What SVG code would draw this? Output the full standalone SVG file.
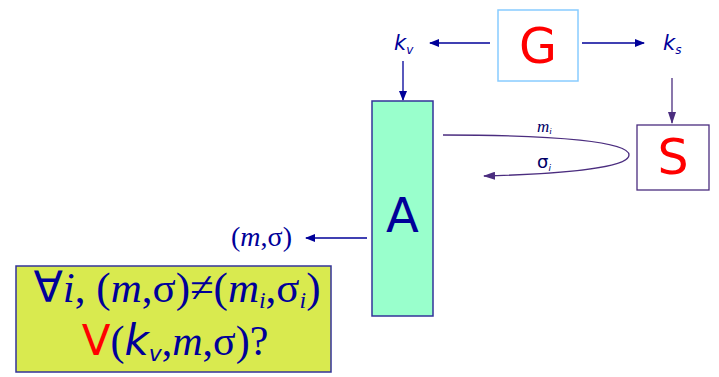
<svg xmlns="http://www.w3.org/2000/svg" width="719" height="377" viewBox="0 0 719 377">
<style>
.sans{font-family:"DejaVu Sans","Liberation Sans",sans-serif}
.serif{font-family:"Liberation Serif","DejaVu Serif",serif}
.blue{fill:#000099}
.red{fill:#ff0000}
.ln{stroke:#000099;stroke-width:1.3;fill:none}
.pl{stroke:#4b2d7f;stroke-width:1.3;fill:none}
</style>
<defs>
<marker id="ab" markerWidth="10" markerHeight="8" refX="9" refY="4" orient="auto" markerUnits="userSpaceOnUse"><path d="M0,0 L10,4 L0,8 Z" fill="#000099"/></marker>
<marker id="ap" markerWidth="12" markerHeight="8" refX="11" refY="4" orient="auto" markerUnits="userSpaceOnUse"><path d="M0,0 L12,4 L0,8 Z" fill="#4b2d7f"/></marker>
</defs>
<g id="connectors">
<line class="ln" x1="490" y1="43" x2="430" y2="43" marker-end="url(#ab)"/>
<line class="ln" x1="582" y1="43" x2="644" y2="43" marker-end="url(#ab)"/>
<line class="ln" x1="403" y1="61" x2="403" y2="100" marker-end="url(#ab)"/>
<line class="pl" x1="672" y1="78" x2="672" y2="123" marker-end="url(#ap)"/>
<path class="pl" d="M443,135 C560,135 629,142 629,155 C629,168 560,174 484,176" marker-end="url(#ap)"/>
<line class="ln" x1="367" y1="238" x2="306" y2="238" marker-end="url(#ab)"/>
</g>
<g id="G">
<rect x="498" y="10" width="80" height="71" fill="#fff" stroke="#88ccff" stroke-width="1.5"/>
<text x="538" y="63" class="sans red" font-size="49" text-anchor="middle">G</text>
</g>
<g id="kv">
<text x="394" y="50" class="sans blue" font-size="21" font-style="italic">k<tspan font-size="12" dy="4">v</tspan></text>
</g>
<g id="ks">
<text x="663" y="50" class="sans blue" font-size="21" font-style="italic">k<tspan font-size="12" dy="4">s</tspan></text>
</g>
<g id="A">
<rect x="372" y="101" width="61" height="215" fill="#99ffcc" stroke="#333399" stroke-width="1.5"/>
<text x="402.5" y="232" class="sans" fill="#000099" font-size="48" text-anchor="middle">A</text>
</g>
<g id="S">
<rect x="637" y="125" width="72" height="65" fill="#fff" stroke="#4b2d7f" stroke-width="1.3"/>
<text x="673" y="174" class="sans red" font-size="49" text-anchor="middle">S</text>
</g>
<g id="labels">
<text x="537" y="132" class="serif" fill="#000066" font-size="17" font-style="italic">m<tspan font-size="9" dy="2">i</tspan></text>
<text x="537" y="168" class="sans" fill="#000066" font-size="18">σ<tspan font-size="9" dy="3" font-style="italic">i</tspan></text>
<text x="231" y="246" class="serif blue" font-size="28">(<tspan font-style="italic">m</tspan>,σ)</text>
</g>
<g id="box">
<rect x="16" y="266" width="315" height="106" fill="#d9ea4f" stroke="#333399" stroke-width="1.5"/>
<text x="177" y="302" class="serif blue" font-size="43" text-anchor="middle"><tspan class="sans">∀</tspan><tspan font-style="italic">i</tspan>, (<tspan font-style="italic">m</tspan>,σ)≠(<tspan font-style="italic">m</tspan><tspan font-size="24" dy="6" font-style="italic">i</tspan><tspan dy="-6">,σ</tspan><tspan font-size="24" dy="6" font-style="italic">i</tspan><tspan dy="-6">)</tspan></text>
<text x="175" y="355" class="serif blue" font-size="42" text-anchor="middle"><tspan class="sans red">V</tspan>(<tspan class="sans" font-style="italic">k</tspan><tspan font-size="22" dy="6" font-style="italic" class="sans">v</tspan><tspan dy="-6">,</tspan><tspan font-style="italic">m</tspan>,σ)?</text>
</g>
</svg>
